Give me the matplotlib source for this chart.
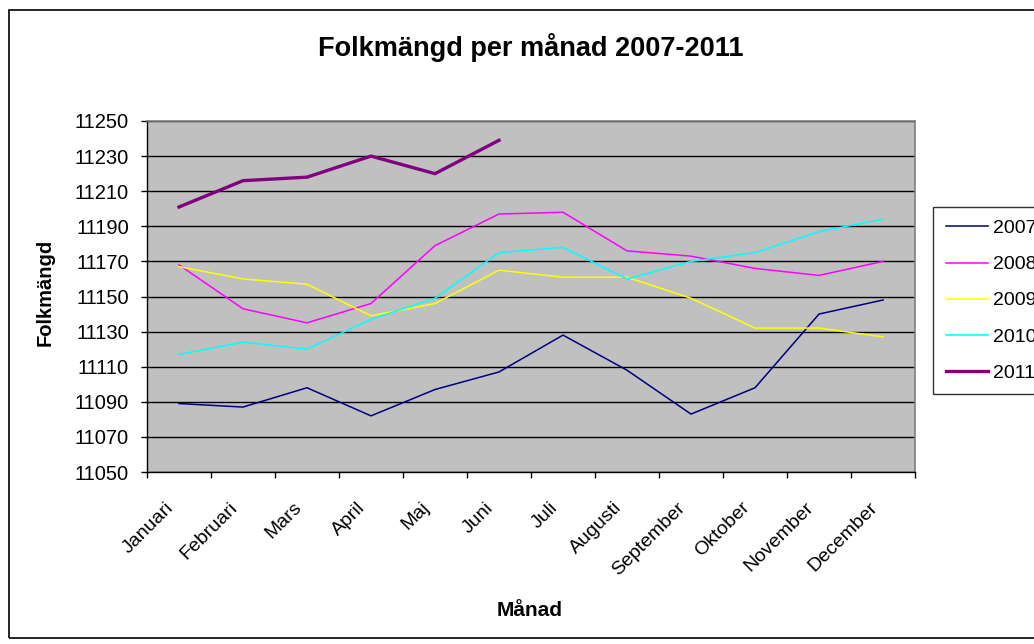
import numpy as np
import matplotlib.pyplot as plt
import matplotlib.transforms as mtransforms
from matplotlib.patches import Rectangle

plt.rcParams['font.family'] = ['Liberation Sans', 'DejaVu Sans']

# --- data ---
months = ['Januari', 'Februari', 'Mars', 'April', 'Maj', 'Juni', 'Juli',
          'Augusti', 'September', 'Oktober', 'November', 'December']
y2007 = [11089, 11087, 11098, 11082, 11097, 11107, 11128, 11108, 11083, 11098, 11140, 11148]
y2008 = [11168, 11143, 11135, 11146, 11179, 11197, 11198, 11176, 11173, 11166, 11162, 11170]
y2009 = [11167, 11160, 11157, 11139, 11146, 11165, 11161, 11161, 11149, 11132, 11132, 11127]
y2010 = [11117, 11124, 11120, 11137, 11149, 11175, 11178, 11160, 11170, 11175, 11187, 11194]
y2011 = [11201, 11216, 11218, 11230, 11220, 11239]
years = ['2007', '2008', '2009', '2010', '2011']
yticks = np.arange(11050, 11251, 20)

series = [y2007, y2008, y2009, y2010, y2011]
colors = ['#000080', '#FF00FF', '#FFFF00', '#00FFFF', '#800080']
widths = [1.1, 1.1, 1.1, 1.1, 2.4]

fig = plt.figure(figsize=(10.34, 6.44), dpi=100, facecolor='white')
ax = fig.add_axes([147/1034, 1 - 472/644, (915 - 147)/1034, (472 - 121)/644])
ax.set_facecolor('#C0C0C0')

for vals, name, c, lw in zip(series, years, colors, widths):
    ax.plot(np.arange(len(vals)), vals, color=c, lw=lw, label=name,
            solid_joinstyle='miter')

ax.set_ylim(11050, 11250)
ax.set_yticks(yticks)
ax.set_yticklabels([str(v) for v in yticks], fontsize=14.5)
ax.yaxis.grid(True, color='black', lw=1.0)
ax.set_axisbelow(True)

# category axis: ticks on the boundaries, names under the centres
ax.set_xlim(-0.5, 11.5)
ax.set_xticks(np.arange(-0.5, 12, 1))
ax.set_xticklabels([])
ax.tick_params(axis='x', length=4.5, width=1, color='black')
ax.tick_params(axis='y', length=4.3, width=1, color='black', pad=8.6)
lab_tr = ax.get_xaxis_transform() + mtransforms.ScaledTranslation(
    -8/100, -33/100, fig.dpi_scale_trans)
for i, m in enumerate(months):
    ax.text(i, 0, m, transform=lab_tr, rotation=45, ha='right', va='center',
            rotation_mode='anchor', fontsize=14)

for s in ['top', 'right']:
    ax.spines[s].set_color('#808080')
    ax.spines[s].set_linewidth(1.2)
for s in ['left', 'bottom']:
    ax.spines[s].set_color('black')
    ax.spines[s].set_linewidth(1.0)

fig.text(531/1034, 1 - 56/644, 'Folkmängd per månad 2007-2011',
         ha='center', va='baseline', fontsize=19.5, fontweight='bold')
fig.text(530/1034, 1 - 611/644, 'Månad', ha='center', va='center',
         fontsize=15, fontweight='bold')
fig.text(45/1034, 1 - 292/644, 'Folkmängd', ha='center', va='center',
         rotation=90, fontsize=14.5, fontweight='bold')

leg = fig.legend(loc='upper left', bbox_to_anchor=(933/1034, 1 - 207/644),
                 fontsize=14, frameon=True, fancybox=False, edgecolor='black',
                 handlelength=2.2, handletextpad=0.25, labelspacing=0.95,
                 borderpad=0.65, borderaxespad=0)
leg.get_frame().set_linewidth(1.0)

fig.patches.append(Rectangle((9/1034, 1 - 638/644), 1040/1034, 628/644,
                             transform=fig.transFigure, fill=False,
                             edgecolor='black', lw=1.2))

fig.savefig('out.png', dpi=100)
